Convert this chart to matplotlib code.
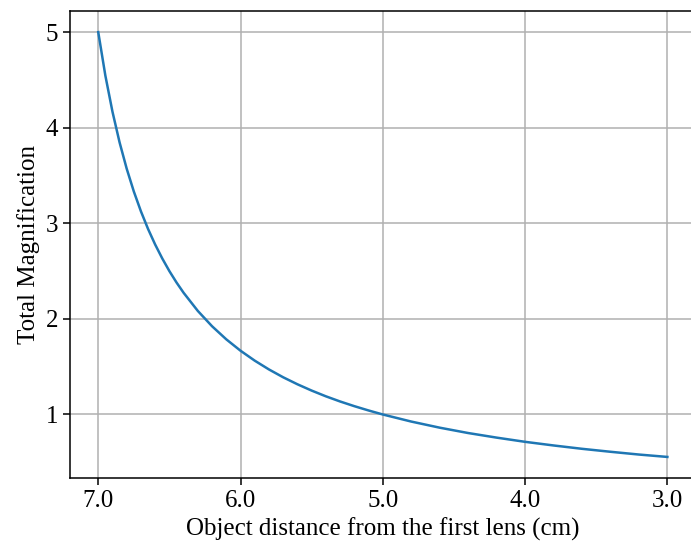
import matplotlib
matplotlib.use('Agg')
import matplotlib.pyplot as plt
from matplotlib.ticker import FormatStrFormatter

# distance of object from the first lens (cm) and total magnification
distance = [7.0, 6.95, 6.9, 6.85, 6.8, 6.75, 6.7, 6.65, 6.6, 6.55, 6.5, 6.45, 6.4,
            6.3, 6.2, 6.1, 6.0, 5.9, 5.8, 5.7, 5.6, 5.5, 5.4, 5.3, 5.2, 5.1, 5.0,
            4.8, 4.6, 4.4, 4.2, 4.0, 3.8, 3.6, 3.4, 3.2, 3.0]
magnification = [5.0, 4.545, 4.167, 3.846, 3.571, 3.333, 3.125, 2.941, 2.778, 2.632,
                 2.5, 2.381, 2.273, 2.083, 1.923, 1.786, 1.667, 1.563, 1.471, 1.389,
                 1.316, 1.25, 1.19, 1.136, 1.087, 1.042, 1.0, 0.926, 0.862, 0.806,
                 0.758, 0.714, 0.676, 0.641, 0.610, 0.581, 0.556]

plt.rcParams['font.family'] = ['Liberation Serif', 'DejaVu Serif']
plt.rcParams['font.size'] = 18
plt.rcParams['axes.linewidth'] = 1.1
plt.rcParams['xtick.major.size'] = 5
plt.rcParams['ytick.major.size'] = 5
plt.rcParams['xtick.major.width'] = 1.1
plt.rcParams['ytick.major.width'] = 1.1

fig = plt.figure(figsize=(6.91, 5.44), dpi=100)
# the right side of the frame falls just past the picture edge, as in the reference
ax = fig.add_axes([0.101, 0.121, 0.906, 0.859])
ax.plot(distance, magnification, color='#1f77b4', linewidth=1.8)
ax.invert_xaxis()
ax.set_xticks([7.0, 6.0, 5.0, 4.0, 3.0])
ax.xaxis.set_major_formatter(FormatStrFormatter('%.1f'))
ax.set_yticks([1, 2, 3, 4, 5])
ax.grid(True, color='#b0b0b0', linewidth=1.1)
ax.set_xlabel('Object distance from the first lens (cm)', labelpad=4)
ax.set_ylabel('Total Magnification', labelpad=4)

fig.savefig('out.png', dpi=100)
